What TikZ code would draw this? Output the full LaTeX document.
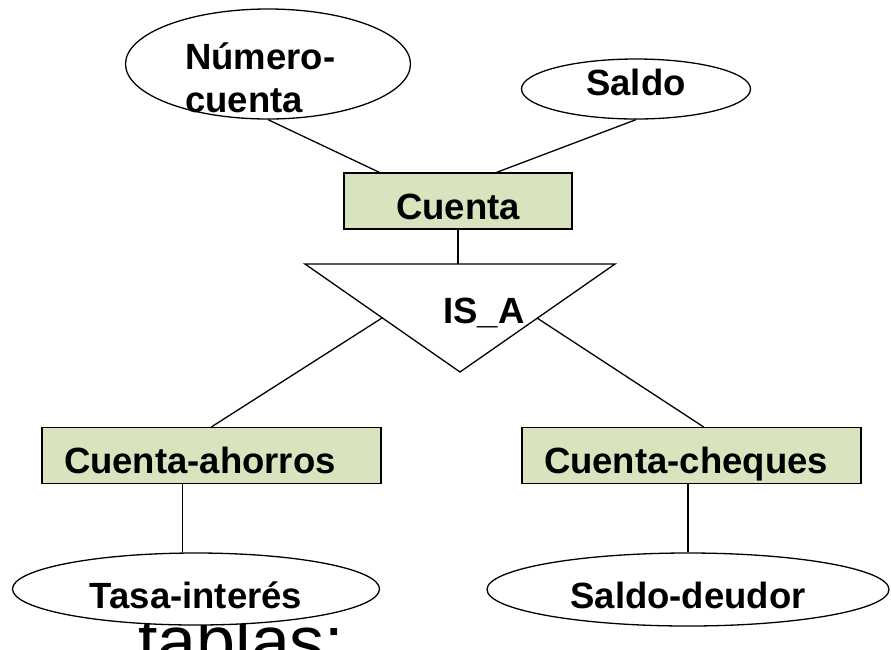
\documentclass[tikz,border=0pt]{standalone}
\usepackage{fontspec}
\setmainfont{Liberation Sans}
\usepackage{tikz}
\usetikzlibrary{arrows,shapes}

\definecolor{entgreen}{HTML}{D7E4BD}

\begin{document}
\begin{tikzpicture}[x=1pt,y=-1pt,font=\bfseries\fontsize{36.5}{43}\selectfont]

  \tikzstyle{entity}=[rectangle,draw=black,fill=entgreen,line width=1.3pt,
    minimum height=56,inner sep=0pt,text height=36pt,text depth=0pt]
  \tikzstyle{subent}=[entity,minimum width=339,text width=295,inner xsep=22,align=left]
  \tikzstyle{attr}=[ellipse,draw=black,fill=white,line width=1.3pt,inner sep=0pt]
  \tikzstyle{link}=[draw=black,line width=1.3pt]

  \useasboundingbox (0,0) rectangle (891,649);
  %% \draw [help lines,step=50] (0,0) grid (891,649);

  \node  (tab)     at (138,665) [anchor=base west,inner sep=0pt,
                                 font=\mdseries\fontsize{70}{80}\selectfont] {tablas:};

  \node  (num)     at (268,64)  [attr,minimum width=285,minimum height=110] {};
  \node  (numtxt)  at (185,43)  [anchor=north west,inner sep=0pt,align=left]
         {Número-\\cuenta};
  \node  (saldo)   at (636,89)  [attr,minimum width=229,minimum height=60,
                                 text depth=14pt] {Saldo};

  \node  (cuenta)  at (458,201) [entity,minimum width=228] {Cuenta};

  % IS_A triangle
  \coordinate (isaTL) at (305,264);
  \coordinate (isaTR) at (615,264);
  \coordinate (isaB)  at (460,372);
  \coordinate (isaT)  at (458,264);
  \coordinate (isaL)  at (382,318);
  \coordinate (isaR)  at (537,318);
  \draw [link,fill=white] (isaTL) -- (isaTR) -- (isaB) -- cycle;
  \node  (isa)     at (484,312.5) [inner sep=0pt] {IS\_A};

  \node  (ahorros) at (211.5,455.5) [subent] {Cuenta-ahorros};
  \node  (cheques) at (691.5,455.5) [subent] {Cuenta-cheques};

  \node  (tasa)    at (196,589)   [attr,minimum width=367,minimum height=72,
                                   text height=38pt,text depth=0pt] {Tasa-interés};
  \node  (deudor)  at (688,589.5) [attr,minimum width=402,minimum height=73,
                                   text height=38pt,text depth=0pt] {Saldo-deudor};

  \path (num.south)     edge [link] ([xshift=36]cuenta.north west)
        (saldo.south)   edge [link] ([xshift=-76]cuenta.north east)
        (cuenta.south)  edge [link] (isaT)
        (isaL)          edge [link] (ahorros.north)
        (isaR)          edge [link] ([xshift=12]cheques.north)
        (tasa.110)      edge [link] (tasa.110 |- ahorros.south)
        (deudor.north)  edge [link] (deudor.north |- cheques.south);
\end{tikzpicture}
\end{document}
